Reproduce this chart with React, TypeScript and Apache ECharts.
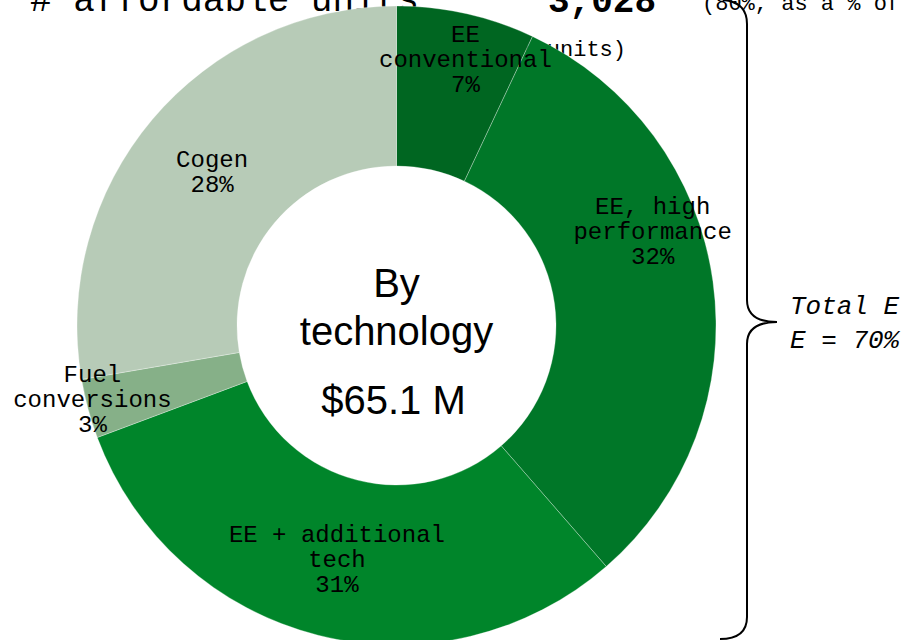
import React, { useEffect, useRef } from "react";
import * as echarts from "echarts";

// ---- data ----
const categories = [
  "EE\nconventional",
  "EE, high\nperformance",
  "EE + additional\ntech",
  "Fuel\nconversions",
  "Cogen",
];
const shares = [7.0, 31.6, 30.7, 3.0, 27.7];
const centerLines = ["By", "technology", "$65.1 M"];
const headerTitle = "# affordable units";
const headerValue = "3,028";
const headerNote1 = "(80%, as a % of";
const headerNote2 = "total units)";
const braceLines = ["Total E", "E = 70%"];

// ---- styles ----
const sliceColors = ["#006621", "#007728", "#00852a", "#86b088", "#b7cbb7"];
const labelOffsets = [
  [16, -28],
  [16, -60],
  [0, 0],
  [-70, 12],
  [1, 4],
];
const MONO = "'Liberation Mono', 'DejaVu Sans Mono', monospace";
const SANS = "'Liberation Sans', Arial, sans-serif";

const BRACE_D =
  "M 723 0 Q 747 2 747 24 L 747 300 Q 747 322 777 322 Q 747 322 747 344 L 747 617 Q 747 639 720 639";
echarts.graphic.registerShape("brace", echarts.graphic.extendPath(BRACE_D, {}));

export default function App() {
  const ref = useRef<HTMLDivElement>(null);
  useEffect(() => {
    if (!ref.current) return;
    const chart = echarts.init(ref.current, undefined, { renderer: "svg" });
    const cx = 396.5;
    const cy = 325.5;
    chart.setOption({
      animation: false,
      backgroundColor: "#ffffff",
      graphic: [
        {
          type: "text",
          z: 0,
          x: 30,
          y: 1,
          style: {
            text: headerTitle,
            font: `36px ${MONO}`,
            fill: "#000",
            verticalAlign: "middle",
          },
        },
        {
          type: "text",
          z: 0,
          x: 548,
          y: 2,
          style: {
            text: headerValue,
            font: `bold 36px ${MONO}`,
            fill: "#000",
            verticalAlign: "middle",
          },
        },
        {
          type: "text",
          z: 0,
          x: 702,
          y: 4,
          style: {
            text: headerNote1,
            font: `22px ${MONO}`,
            fill: "#000",
            verticalAlign: "middle",
          },
        },
        {
          type: "text",
          z: 0,
          x: 626,
          y: 50,
          style: {
            text: headerNote2,
            font: `22px ${MONO}`,
            fill: "#000",
            align: "right",
            verticalAlign: "middle",
          },
        },
        {
          type: "brace",
          x: 0,
          y: 0,
          z: 1,
          style: { stroke: "#000", lineWidth: 2, fill: "none" },
        },
        {
          type: "text",
          z: 1,
          x: 790,
          y: 307,
          style: {
            text: braceLines[0],
            font: `italic 26px ${MONO}`,
            fill: "#000",
            verticalAlign: "middle",
          },
        },
        {
          type: "text",
          z: 1,
          x: 790,
          y: 341,
          style: {
            text: braceLines[1],
            font: `italic 26px ${MONO}`,
            fill: "#000",
            verticalAlign: "middle",
          },
        },
        {
          type: "text",
          z: 10,
          x: cx,
          y: 283,
          style: {
            text: centerLines[0],
            font: `40px ${SANS}`,
            fill: "#000",
            align: "center",
            verticalAlign: "middle",
          },
        },
        {
          type: "text",
          z: 10,
          x: cx,
          y: 331,
          style: {
            text: centerLines[1],
            font: `40px ${SANS}`,
            fill: "#000",
            align: "center",
            verticalAlign: "middle",
          },
        },
        {
          type: "text",
          z: 10,
          x: cx - 3,
          y: 400,
          style: {
            text: centerLines[2],
            font: `40px ${SANS}`,
            fill: "#000",
            align: "center",
            verticalAlign: "middle",
          },
        },
      ],
      series: [
        {
          type: "pie",
          z: 5,
          center: [cx, cy],
          radius: [159.5, 319.5],
          startAngle: 90,
          clockwise: true,
          avoidLabelOverlap: false,
          silent: true,
          itemStyle: { borderColor: "rgba(255,255,255,0.5)", borderWidth: 0.6 },
          label: {
            show: true,
            position: "inside",
            color: "#000",
            fontFamily: MONO,
            fontSize: 24,
            lineHeight: 25,
            align: "center",
            formatter: (p: any) => `${p.name}\n${Math.round(p.value)}%`,
          },
          labelLine: { show: false },
          data: categories.map((name, i) => ({
            name,
            value: shares[i],
            itemStyle: { color: sliceColors[i] },
            label: { offset: labelOffsets[i] },
          })),
        },
      ],
    });
    return () => chart.dispose();
  }, []);
  return (
    <div
      ref={ref}
      style={{ position: "fixed", left: 0, top: 0, width: 917, height: 640 }}
    />
  );
}
